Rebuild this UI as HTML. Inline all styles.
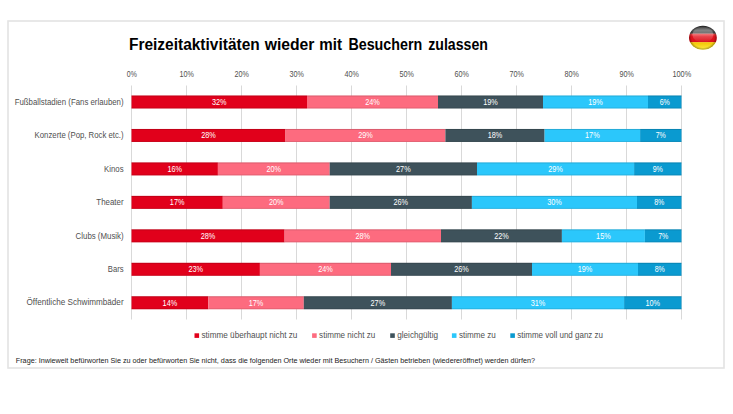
<!DOCTYPE html><html><head><meta charset="utf-8"><style>html,body{margin:0;padding:0;background:#fff;width:733px;height:414px;overflow:hidden}svg{display:block}text{font-family:"Liberation Sans",sans-serif}</style></head><body>
<svg width="733" height="414" viewBox="0 0 733 414">
<rect x="8" y="21" width="716" height="347" fill="#fff" stroke="#e3e3e3" stroke-width="1.6"/>
<text class="t" x="129.0" y="49.5" font-size="16.3" font-weight="bold" fill="#000" textLength="130.70" lengthAdjust="spacingAndGlyphs">Freizeitaktivitäten</text>
<text class="t" x="264.7" y="49.5" font-size="16.3" font-weight="bold" fill="#000" textLength="49.80" lengthAdjust="spacingAndGlyphs">wieder</text>
<text class="t" x="319.3" y="49.5" font-size="16.3" font-weight="bold" fill="#000" textLength="22.70" lengthAdjust="spacingAndGlyphs">mit</text>
<text class="t" x="348.4" y="49.5" font-size="16.3" font-weight="bold" fill="#000" textLength="73.80" lengthAdjust="spacingAndGlyphs">Besuchern</text>
<text class="t" x="428.2" y="49.5" font-size="16.3" font-weight="bold" fill="#000" textLength="59.70" lengthAdjust="spacingAndGlyphs">zulassen</text>
<line x1="131.5" y1="85.5" x2="131.5" y2="319.5" stroke="#d9d9d9" stroke-width="1"/>
<line x1="186.5" y1="85.5" x2="186.5" y2="319.5" stroke="#d9d9d9" stroke-width="1"/>
<line x1="241.5" y1="85.5" x2="241.5" y2="319.5" stroke="#d9d9d9" stroke-width="1"/>
<line x1="296.5" y1="85.5" x2="296.5" y2="319.5" stroke="#d9d9d9" stroke-width="1"/>
<line x1="351.5" y1="85.5" x2="351.5" y2="319.5" stroke="#d9d9d9" stroke-width="1"/>
<line x1="406.5" y1="85.5" x2="406.5" y2="319.5" stroke="#d9d9d9" stroke-width="1"/>
<line x1="461.5" y1="85.5" x2="461.5" y2="319.5" stroke="#d9d9d9" stroke-width="1"/>
<line x1="516.5" y1="85.5" x2="516.5" y2="319.5" stroke="#d9d9d9" stroke-width="1"/>
<line x1="571.5" y1="85.5" x2="571.5" y2="319.5" stroke="#d9d9d9" stroke-width="1"/>
<line x1="626.5" y1="85.5" x2="626.5" y2="319.5" stroke="#d9d9d9" stroke-width="1"/>
<line x1="681.5" y1="85.5" x2="681.5" y2="319.5" stroke="#d9d9d9" stroke-width="1"/>
<text class="t" x="131.8" y="77" font-size="8.2" fill="#4f4f4f" text-anchor="middle" textLength="10.03" lengthAdjust="spacingAndGlyphs">0%</text>
<text class="t" x="186.8" y="77" font-size="8.2" fill="#4f4f4f" text-anchor="middle" textLength="14.44" lengthAdjust="spacingAndGlyphs">10%</text>
<text class="t" x="241.8" y="77" font-size="8.2" fill="#4f4f4f" text-anchor="middle" textLength="14.44" lengthAdjust="spacingAndGlyphs">20%</text>
<text class="t" x="296.8" y="77" font-size="8.2" fill="#4f4f4f" text-anchor="middle" textLength="14.44" lengthAdjust="spacingAndGlyphs">30%</text>
<text class="t" x="351.8" y="77" font-size="8.2" fill="#4f4f4f" text-anchor="middle" textLength="14.44" lengthAdjust="spacingAndGlyphs">40%</text>
<text class="t" x="406.8" y="77" font-size="8.2" fill="#4f4f4f" text-anchor="middle" textLength="14.44" lengthAdjust="spacingAndGlyphs">50%</text>
<text class="t" x="461.8" y="77" font-size="8.2" fill="#4f4f4f" text-anchor="middle" textLength="14.44" lengthAdjust="spacingAndGlyphs">60%</text>
<text class="t" x="516.8" y="77" font-size="8.2" fill="#4f4f4f" text-anchor="middle" textLength="14.44" lengthAdjust="spacingAndGlyphs">70%</text>
<text class="t" x="571.8" y="77" font-size="8.2" fill="#4f4f4f" text-anchor="middle" textLength="14.44" lengthAdjust="spacingAndGlyphs">80%</text>
<text class="t" x="626.8" y="77" font-size="8.2" fill="#4f4f4f" text-anchor="middle" textLength="14.44" lengthAdjust="spacingAndGlyphs">90%</text>
<text class="t" x="681.8" y="77" font-size="8.2" fill="#4f4f4f" text-anchor="middle" textLength="18.85" lengthAdjust="spacingAndGlyphs">100%</text>
<rect x="131.5" y="95.50" width="175.50" height="13" fill="#e1001b"/>
<rect x="307" y="95.50" width="131.00" height="13" fill="#fd6b7f"/>
<rect x="438" y="95.50" width="105.00" height="13" fill="#3e525b"/>
<rect x="543" y="95.50" width="105.00" height="13" fill="#2bc7fb"/>
<rect x="648" y="95.50" width="33.50" height="13" fill="#0a9ad0"/>
<rect x="131.5" y="95.50" width="550.00" height="1" fill="#000" fill-opacity="0.14"/>
<rect x="131.5" y="107.50" width="550.00" height="1" fill="#000" fill-opacity="0.10"/>
<text class="t" x="219.25" y="104.90" font-size="8.2" fill="#fff" text-anchor="middle" textLength="14.62" lengthAdjust="spacingAndGlyphs">32%</text>
<text class="t" x="372.50" y="104.90" font-size="8.2" fill="#fff" text-anchor="middle" textLength="14.62" lengthAdjust="spacingAndGlyphs">24%</text>
<text class="t" x="490.50" y="104.90" font-size="8.2" fill="#fff" text-anchor="middle" textLength="14.62" lengthAdjust="spacingAndGlyphs">19%</text>
<text class="t" x="595.50" y="104.90" font-size="8.2" fill="#fff" text-anchor="middle" textLength="14.62" lengthAdjust="spacingAndGlyphs">19%</text>
<text class="t" x="664.75" y="104.90" font-size="8.2" fill="#fff" text-anchor="middle" textLength="10.15" lengthAdjust="spacingAndGlyphs">6%</text>
<text class="t" x="123.6" y="105.00" font-size="8.6" fill="#4f4f4f" text-anchor="end" textLength="108.89999999999999" lengthAdjust="spacingAndGlyphs">Fußballstadien (Fans erlauben)</text>
<rect x="131.5" y="128.96" width="154.00" height="13" fill="#e1001b"/>
<rect x="285.5" y="128.96" width="159.90" height="13" fill="#fd6b7f"/>
<rect x="445.4" y="128.96" width="99.20" height="13" fill="#3e525b"/>
<rect x="544.6" y="128.96" width="95.50" height="13" fill="#2bc7fb"/>
<rect x="640.1" y="128.96" width="41.40" height="13" fill="#0a9ad0"/>
<rect x="131.5" y="128.96" width="550.00" height="1" fill="#000" fill-opacity="0.14"/>
<rect x="131.5" y="140.96" width="550.00" height="1" fill="#000" fill-opacity="0.10"/>
<text class="t" x="208.50" y="138.36" font-size="8.2" fill="#fff" text-anchor="middle" textLength="14.62" lengthAdjust="spacingAndGlyphs">28%</text>
<text class="t" x="365.45" y="138.36" font-size="8.2" fill="#fff" text-anchor="middle" textLength="14.62" lengthAdjust="spacingAndGlyphs">29%</text>
<text class="t" x="495.00" y="138.36" font-size="8.2" fill="#fff" text-anchor="middle" textLength="14.62" lengthAdjust="spacingAndGlyphs">18%</text>
<text class="t" x="592.35" y="138.36" font-size="8.2" fill="#fff" text-anchor="middle" textLength="14.62" lengthAdjust="spacingAndGlyphs">17%</text>
<text class="t" x="660.80" y="138.36" font-size="8.2" fill="#fff" text-anchor="middle" textLength="10.15" lengthAdjust="spacingAndGlyphs">7%</text>
<text class="t" x="123.6" y="138.40" font-size="8.6" fill="#4f4f4f" text-anchor="end" textLength="89.0" lengthAdjust="spacingAndGlyphs">Konzerte (Pop, Rock etc.)</text>
<rect x="131.5" y="162.42" width="86.40" height="13" fill="#e1001b"/>
<rect x="217.9" y="162.42" width="111.80" height="13" fill="#fd6b7f"/>
<rect x="329.7" y="162.42" width="147.30" height="13" fill="#3e525b"/>
<rect x="477" y="162.42" width="157.10" height="13" fill="#2bc7fb"/>
<rect x="634.1" y="162.42" width="47.40" height="13" fill="#0a9ad0"/>
<rect x="131.5" y="162.42" width="550.00" height="1" fill="#000" fill-opacity="0.14"/>
<rect x="131.5" y="174.42" width="550.00" height="1" fill="#000" fill-opacity="0.10"/>
<text class="t" x="174.70" y="171.82" font-size="8.2" fill="#fff" text-anchor="middle" textLength="14.62" lengthAdjust="spacingAndGlyphs">16%</text>
<text class="t" x="273.80" y="171.82" font-size="8.2" fill="#fff" text-anchor="middle" textLength="14.62" lengthAdjust="spacingAndGlyphs">20%</text>
<text class="t" x="403.35" y="171.82" font-size="8.2" fill="#fff" text-anchor="middle" textLength="14.62" lengthAdjust="spacingAndGlyphs">27%</text>
<text class="t" x="555.55" y="171.82" font-size="8.2" fill="#fff" text-anchor="middle" textLength="14.62" lengthAdjust="spacingAndGlyphs">29%</text>
<text class="t" x="657.80" y="171.82" font-size="8.2" fill="#fff" text-anchor="middle" textLength="10.15" lengthAdjust="spacingAndGlyphs">9%</text>
<text class="t" x="123.6" y="171.80" font-size="8.6" fill="#4f4f4f" text-anchor="end" textLength="19.5" lengthAdjust="spacingAndGlyphs">Kinos</text>
<rect x="131.5" y="195.88" width="91.30" height="13" fill="#e1001b"/>
<rect x="222.8" y="195.88" width="106.90" height="13" fill="#fd6b7f"/>
<rect x="329.7" y="195.88" width="142.20" height="13" fill="#3e525b"/>
<rect x="471.9" y="195.88" width="165.10" height="13" fill="#2bc7fb"/>
<rect x="637" y="195.88" width="44.50" height="13" fill="#0a9ad0"/>
<rect x="131.5" y="195.88" width="550.00" height="1" fill="#000" fill-opacity="0.14"/>
<rect x="131.5" y="207.88" width="550.00" height="1" fill="#000" fill-opacity="0.10"/>
<text class="t" x="177.15" y="205.28" font-size="8.2" fill="#fff" text-anchor="middle" textLength="14.62" lengthAdjust="spacingAndGlyphs">17%</text>
<text class="t" x="276.25" y="205.28" font-size="8.2" fill="#fff" text-anchor="middle" textLength="14.62" lengthAdjust="spacingAndGlyphs">20%</text>
<text class="t" x="400.80" y="205.28" font-size="8.2" fill="#fff" text-anchor="middle" textLength="14.62" lengthAdjust="spacingAndGlyphs">26%</text>
<text class="t" x="554.45" y="205.28" font-size="8.2" fill="#fff" text-anchor="middle" textLength="14.62" lengthAdjust="spacingAndGlyphs">30%</text>
<text class="t" x="659.25" y="205.28" font-size="8.2" fill="#fff" text-anchor="middle" textLength="10.15" lengthAdjust="spacingAndGlyphs">8%</text>
<text class="t" x="123.6" y="205.20" font-size="8.6" fill="#4f4f4f" text-anchor="end" textLength="27.3" lengthAdjust="spacingAndGlyphs">Theater</text>
<rect x="131.5" y="229.34" width="153.10" height="13" fill="#e1001b"/>
<rect x="284.6" y="229.34" width="156.40" height="13" fill="#fd6b7f"/>
<rect x="441" y="229.34" width="120.90" height="13" fill="#3e525b"/>
<rect x="561.9" y="229.34" width="83.00" height="13" fill="#2bc7fb"/>
<rect x="644.9" y="229.34" width="36.60" height="13" fill="#0a9ad0"/>
<rect x="131.5" y="229.34" width="550.00" height="1" fill="#000" fill-opacity="0.14"/>
<rect x="131.5" y="241.34" width="550.00" height="1" fill="#000" fill-opacity="0.10"/>
<text class="t" x="208.05" y="238.74" font-size="8.2" fill="#fff" text-anchor="middle" textLength="14.62" lengthAdjust="spacingAndGlyphs">28%</text>
<text class="t" x="362.80" y="238.74" font-size="8.2" fill="#fff" text-anchor="middle" textLength="14.62" lengthAdjust="spacingAndGlyphs">28%</text>
<text class="t" x="501.45" y="238.74" font-size="8.2" fill="#fff" text-anchor="middle" textLength="14.62" lengthAdjust="spacingAndGlyphs">22%</text>
<text class="t" x="603.40" y="238.74" font-size="8.2" fill="#fff" text-anchor="middle" textLength="14.62" lengthAdjust="spacingAndGlyphs">15%</text>
<text class="t" x="663.20" y="238.74" font-size="8.2" fill="#fff" text-anchor="middle" textLength="10.15" lengthAdjust="spacingAndGlyphs">7%</text>
<text class="t" x="123.6" y="238.60" font-size="8.6" fill="#4f4f4f" text-anchor="end" textLength="48.0" lengthAdjust="spacingAndGlyphs">Clubs (Musik)</text>
<rect x="131.5" y="262.80" width="128.40" height="13" fill="#e1001b"/>
<rect x="259.9" y="262.80" width="131.10" height="13" fill="#fd6b7f"/>
<rect x="391" y="262.80" width="141.00" height="13" fill="#3e525b"/>
<rect x="532" y="262.80" width="106.00" height="13" fill="#2bc7fb"/>
<rect x="638" y="262.80" width="43.50" height="13" fill="#0a9ad0"/>
<rect x="131.5" y="262.80" width="550.00" height="1" fill="#000" fill-opacity="0.14"/>
<rect x="131.5" y="274.80" width="550.00" height="1" fill="#000" fill-opacity="0.10"/>
<text class="t" x="195.70" y="272.20" font-size="8.2" fill="#fff" text-anchor="middle" textLength="14.62" lengthAdjust="spacingAndGlyphs">23%</text>
<text class="t" x="325.45" y="272.20" font-size="8.2" fill="#fff" text-anchor="middle" textLength="14.62" lengthAdjust="spacingAndGlyphs">24%</text>
<text class="t" x="461.50" y="272.20" font-size="8.2" fill="#fff" text-anchor="middle" textLength="14.62" lengthAdjust="spacingAndGlyphs">26%</text>
<text class="t" x="585.00" y="272.20" font-size="8.2" fill="#fff" text-anchor="middle" textLength="14.62" lengthAdjust="spacingAndGlyphs">19%</text>
<text class="t" x="659.75" y="272.20" font-size="8.2" fill="#fff" text-anchor="middle" textLength="10.15" lengthAdjust="spacingAndGlyphs">8%</text>
<text class="t" x="123.6" y="272.00" font-size="8.6" fill="#4f4f4f" text-anchor="end" textLength="15.799999999999999" lengthAdjust="spacingAndGlyphs">Bars</text>
<rect x="131.5" y="296.26" width="76.80" height="13" fill="#e1001b"/>
<rect x="208.3" y="296.26" width="95.50" height="13" fill="#fd6b7f"/>
<rect x="303.8" y="296.26" width="148.10" height="13" fill="#3e525b"/>
<rect x="451.9" y="296.26" width="172.20" height="13" fill="#2bc7fb"/>
<rect x="624.1" y="296.26" width="57.40" height="13" fill="#0a9ad0"/>
<rect x="131.5" y="296.26" width="550.00" height="1" fill="#000" fill-opacity="0.14"/>
<rect x="131.5" y="308.26" width="550.00" height="1" fill="#000" fill-opacity="0.10"/>
<text class="t" x="169.90" y="305.66" font-size="8.2" fill="#fff" text-anchor="middle" textLength="14.62" lengthAdjust="spacingAndGlyphs">14%</text>
<text class="t" x="256.05" y="305.66" font-size="8.2" fill="#fff" text-anchor="middle" textLength="14.62" lengthAdjust="spacingAndGlyphs">17%</text>
<text class="t" x="377.85" y="305.66" font-size="8.2" fill="#fff" text-anchor="middle" textLength="14.62" lengthAdjust="spacingAndGlyphs">27%</text>
<text class="t" x="538.00" y="305.66" font-size="8.2" fill="#fff" text-anchor="middle" textLength="14.62" lengthAdjust="spacingAndGlyphs">31%</text>
<text class="t" x="652.80" y="305.66" font-size="8.2" fill="#fff" text-anchor="middle" textLength="14.62" lengthAdjust="spacingAndGlyphs">10%</text>
<text class="t" x="123.6" y="305.40" font-size="8.6" fill="#4f4f4f" text-anchor="end" textLength="97.1" lengthAdjust="spacingAndGlyphs">Öffentliche Schwimmbäder</text>
<rect x="194.5" y="333.3" width="4.6" height="4.6" fill="#e1001b"/>
<text class="t" x="201.5" y="338" font-size="8.6" fill="#4f4f4f" textLength="95.9" lengthAdjust="spacingAndGlyphs">stimme überhaupt nicht zu</text>
<rect x="312.1" y="333.3" width="4.6" height="4.6" fill="#fd6b7f"/>
<text class="t" x="319.1" y="338" font-size="8.6" fill="#4f4f4f" textLength="56.1" lengthAdjust="spacingAndGlyphs">stimme nicht zu</text>
<rect x="390.2" y="333.3" width="4.6" height="4.6" fill="#3e525b"/>
<text class="t" x="397.2" y="338" font-size="8.6" fill="#4f4f4f" textLength="40.8" lengthAdjust="spacingAndGlyphs">gleichgültig</text>
<rect x="451.9" y="333.3" width="4.6" height="4.6" fill="#2bc7fb"/>
<text class="t" x="458.9" y="338" font-size="8.6" fill="#4f4f4f" textLength="36.8" lengthAdjust="spacingAndGlyphs">stimme zu</text>
<rect x="510.3" y="333.3" width="4.6" height="4.6" fill="#0a9ad0"/>
<text class="t" x="517.3" y="338" font-size="8.6" fill="#4f4f4f" textLength="85.7" lengthAdjust="spacingAndGlyphs">stimme voll und ganz zu</text>
<text class="t" x="15.8" y="362.7" font-size="7.0" fill="#222" textLength="519.2" lengthAdjust="spacingAndGlyphs">Frage: Inwieweit befürworten Sie zu oder befürworten Sie nicht, dass die folgenden Orte wieder mit Besuchern / Gästen betrieben (wiedereröffnet) werden dürfen?</text>
<defs>
<clipPath id="fc"><ellipse cx="702.9" cy="37.85" rx="13.9" ry="12"/></clipPath>
<linearGradient id="bk" x1="0" y1="0" x2="0" y2="1"><stop offset="0" stop-color="#222"/><stop offset="0.6" stop-color="#6a6a6a"/><stop offset="1" stop-color="#3a3a3a"/></linearGradient>
<linearGradient id="rd" x1="0" y1="0" x2="0" y2="1"><stop offset="0" stop-color="#ee4a4a"/><stop offset="0.35" stop-color="#e2141e"/><stop offset="1" stop-color="#d8101a"/></linearGradient>
<linearGradient id="gd" x1="0" y1="0" x2="0" y2="1"><stop offset="0" stop-color="#f2c400"/><stop offset="1" stop-color="#fff04a"/></linearGradient>
<linearGradient id="hl" x1="0" y1="0" x2="0" y2="1"><stop offset="0" stop-color="#fff" stop-opacity="0.05"/><stop offset="0.45" stop-color="#fff" stop-opacity="0.28"/><stop offset="0.75" stop-color="#fff" stop-opacity="0.15"/><stop offset="1" stop-color="#fff" stop-opacity="0"/></linearGradient>
<radialGradient id="rim" cx="0.5" cy="0.5" r="0.5"><stop offset="0.8" stop-color="#000" stop-opacity="0"/><stop offset="1" stop-color="#000" stop-opacity="0.35"/></radialGradient>
</defs>
<g clip-path="url(#fc)">
<rect x="688" y="25" width="30" height="8.8" fill="url(#bk)"/>
<rect x="688" y="33.7" width="30" height="8.6" fill="url(#rd)"/>
<rect x="688" y="42.2" width="30" height="8.5" fill="url(#gd)"/>
<ellipse cx="702.9" cy="37.85" rx="13.9" ry="12" fill="url(#rim)"/>
<ellipse cx="702.9" cy="34.5" rx="10.5" ry="8" fill="url(#hl)"/>
</g>
</svg></body></html>
